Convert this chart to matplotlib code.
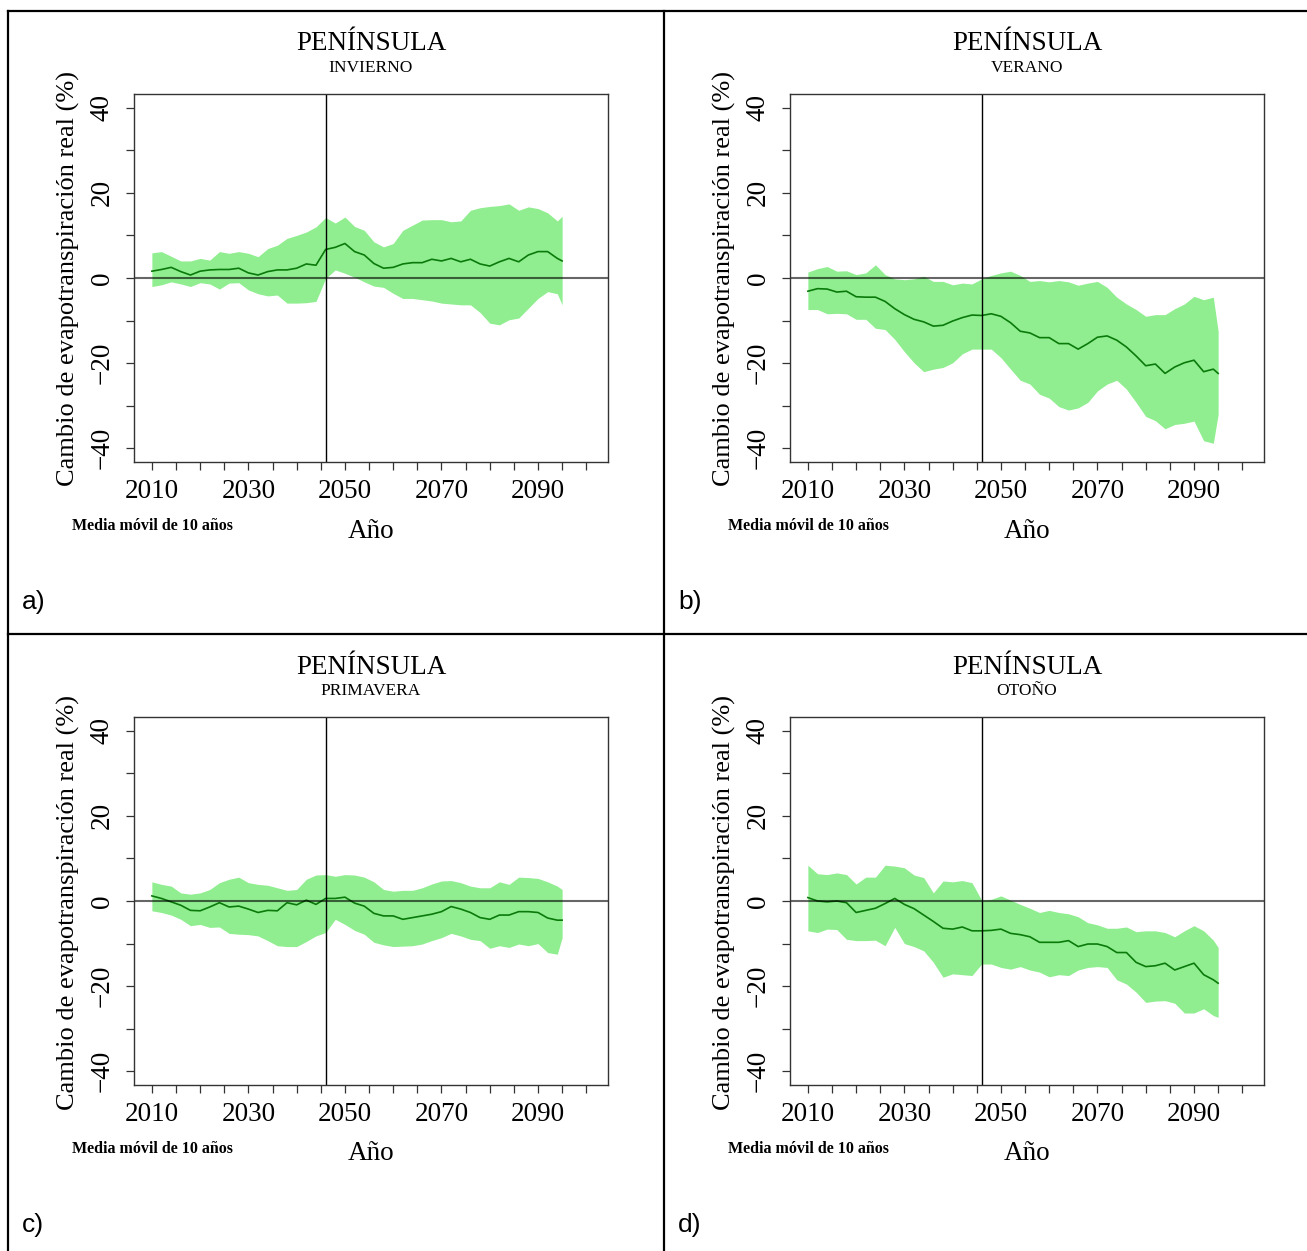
import matplotlib
matplotlib.use("Agg")
import matplotlib.pyplot as plt
from matplotlib.lines import Line2D

# años (media móvil de 10 años, lectura cada 2 años)
years = list(range(2010, 2096, 2)) + [2095]

invierno_media = [1.6, 2.0, 2.5, 1.5, 0.7, 1.6, 1.9, 2.0, 2.0, 2.3, 1.2, 0.7, 1.5, 1.9, 1.9,
                  2.3, 3.3, 3.0, 6.7, 7.2, 8.1, 6.2, 5.4, 3.4, 2.3, 2.5, 3.3, 3.6, 3.6, 4.4,
                  4.0, 4.6, 3.8, 4.4, 3.3, 2.8, 3.8, 4.6, 3.8, 5.4, 6.2, 6.2, 4.6, 4.0]
invierno_sup = [5.9, 6.2, 5.1, 4.0, 4.0, 4.6, 4.2, 6.2, 5.8, 6.2, 5.8, 5.0, 6.9, 7.7, 9.3,
                10.0, 10.8, 12.0, 14.2, 12.9, 14.3, 12.1, 11.2, 8.5, 7.3, 8.1, 11.2, 12.4, 13.6, 13.7,
                13.7, 13.2, 13.4, 15.9, 16.5, 16.8, 17.0, 17.4, 15.9, 16.7, 16.3, 15.3, 13.4, 14.5]
invierno_inf = [-2.0, -1.6, -0.9, -1.4, -2.0, -1.1, -1.4, -2.6, -1.2, -1.1, -2.8, -3.7, -4.2, -4.0, -5.9,
                -5.9, -5.8, -5.5, -0.1, 1.9, 1.1, 0.2, -0.9, -1.9, -2.2, -3.6, -4.8, -4.8, -5.1, -5.4,
                -5.9, -6.1, -6.3, -6.3, -8.1, -10.6, -11.0, -9.8, -9.4, -7.1, -4.8, -3.2, -3.7, -6.3]

verano_media = [-3.1, -2.5, -2.6, -3.3, -3.1, -4.4, -4.5, -4.5, -5.5, -7.2, -8.6, -9.7, -10.3, -11.3, -11.1,
                -10.1, -9.3, -8.7, -8.8, -8.4, -9.0, -10.5, -12.5, -12.9, -14.0, -14.0, -15.4, -15.4, -16.7, -15.4,
                -13.9, -13.6, -14.6, -16.2, -18.3, -20.6, -20.2, -22.4, -20.9, -19.9, -19.3, -22.0, -21.4, -22.4]
verano_sup = [1.4, 2.2, 2.7, 1.6, 1.7, 0.8, 1.2, 3.1, 0.8, -0.2, -0.4, -0.2, 0.4, -0.8, -0.8,
              -1.6, -1.2, -1.4, -0.2, 0.6, 1.2, 1.6, 0.6, -0.8, -0.6, -0.9, -0.6, -0.9, -1.7, -1.2,
              -0.8, -2.2, -4.5, -6.1, -7.4, -9.0, -8.6, -8.6, -7.2, -6.1, -4.3, -5.1, -4.5, -12.5]
verano_inf = [-7.4, -7.4, -8.4, -8.3, -8.4, -9.7, -9.7, -11.8, -12.1, -14.4, -17.3, -19.9, -22.0, -21.4, -21.0,
              -19.9, -17.8, -16.7, -16.7, -16.7, -18.7, -21.4, -24.0, -24.9, -27.3, -28.2, -30.2, -31.0, -30.5, -29.2,
              -26.5, -24.9, -24.0, -26.1, -29.2, -32.5, -33.5, -35.4, -34.4, -34.1, -33.6, -38.2, -38.8, -32.0]

primavera_media = [1.2, 0.6, -0.2, -1.0, -2.2, -2.3, -1.4, -0.4, -1.4, -1.2, -1.9, -2.7, -2.2, -2.3, -0.4,
                   -0.9, 0.2, -0.8, 0.6, 0.6, 0.9, -0.5, -1.2, -2.9, -3.5, -3.5, -4.3, -3.9, -3.5, -3.1,
                   -2.5, -1.3, -1.9, -2.7, -3.9, -4.3, -3.3, -3.3, -2.5, -2.5, -2.7, -4.0, -4.5, -4.5]
primavera_sup = [4.5, 3.9, 3.5, 1.9, 1.6, 1.9, 2.7, 4.3, 5.1, 5.6, 4.3, 3.9, 3.7, 3.1, 2.5,
                 2.7, 5.1, 6.1, 6.2, 5.8, 6.2, 6.1, 5.6, 4.5, 2.7, 2.3, 2.5, 2.5, 3.1, 4.0,
                 4.7, 4.8, 4.3, 3.5, 3.1, 3.1, 4.5, 3.9, 5.6, 5.5, 5.3, 4.5, 3.5, 2.7]
primavera_inf = [-2.3, -2.7, -3.3, -4.3, -5.8, -5.5, -6.2, -6.1, -7.6, -7.8, -7.9, -8.2, -9.3, -10.5, -10.7,
                 -10.7, -9.5, -8.2, -7.4, -4.3, -5.5, -6.9, -7.8, -9.7, -10.3, -10.7, -10.6, -10.5, -10.1, -9.3,
                 -8.6, -7.6, -8.2, -9.0, -9.3, -11.1, -10.5, -10.9, -10.1, -10.5, -10.0, -12.1, -12.5, -8.6]

otono_media = [0.8, 0.0, -0.2, 0.0, -0.4, -2.7, -2.2, -1.7, -0.6, 0.6, -0.8, -1.8, -3.3, -4.8, -6.4,
               -6.6, -6.1, -7.0, -7.0, -6.9, -6.6, -7.6, -7.9, -8.4, -9.7, -9.7, -9.7, -9.3, -10.7, -10.1,
               -10.1, -10.7, -12.1, -12.1, -14.4, -15.4, -15.2, -14.6, -16.2, -15.4, -14.6, -17.3, -18.5, -19.3]
otono_sup = [8.4, 6.4, 6.2, 6.6, 6.2, 4.0, 5.6, 5.6, 8.4, 8.2, 7.8, 6.1, 5.5, 1.9, 4.7,
             4.5, 4.8, 4.3, 0.2, 0.4, 1.2, 0.2, -0.8, -1.7, -2.7, -2.2, -2.7, -3.0, -3.7, -5.1,
             -5.6, -6.4, -6.4, -6.1, -7.2, -7.0, -7.0, -7.4, -8.4, -7.0, -5.8, -7.0, -9.2, -10.9]
otono_inf = [-7.0, -7.4, -6.6, -6.7, -9.0, -9.3, -9.3, -9.2, -10.5, -6.2, -10.0, -10.7, -11.7, -14.4, -17.9,
             -17.1, -17.3, -17.5, -14.8, -14.8, -15.6, -16.0, -15.4, -16.2, -16.7, -17.8, -17.3, -17.5, -16.2, -15.6,
             -15.4, -15.6, -18.5, -19.5, -21.4, -23.8, -23.5, -23.4, -24.0, -26.3, -26.3, -25.3, -26.9, -27.3]

estaciones = ["INVIERNO", "VERANO", "PRIMAVERA", "OTOÑO"]
letras = ["a)", "b)", "c)", "d)"]
series = [(invierno_media, invierno_sup, invierno_inf),
          (verano_media, verano_sup, verano_inf),
          (primavera_media, primavera_sup, primavera_inf),
          (otono_media, otono_sup, otono_inf)]
anio_corte = 2046

W, H = 1307, 1251
SERIF = "Liberation Serif"
SANS = "Liberation Sans"


def fx(px):
    return px / W


def fy(py):
    return 1 - py / H


fig = plt.figure(figsize=(W / 100, H / 100), dpi=100)

# cuadricula de la tabla
for (x0, y0, x1, y1) in [(8, 11, 8, H), (664, 11, 664, H), (8, 11, W, 11), (8, 634, W, 634)]:
    fig.add_artist(Line2D([fx(x0), fx(x1)], [fy(y0), fy(y1)], color="black", lw=1.6))

offsets = [(0, 0), (656, 0), (0, 623), (656, 623)]

for i, (dx, dy) in enumerate(offsets):
    media, sup, inf = series[i]
    left, top, right, bottom = 134 + dx, 94 + dy, 608 + dx, 462 + dy
    ax = fig.add_axes([fx(left), fy(bottom), (right - left) / W, (bottom - top) / H])

    ax.fill_between(years, inf, sup, color="#90ee90", lw=0)
    ax.plot(years, media, color="#0a7a0a", lw=1.2)
    ax.axhline(0, color="black", lw=1.5, alpha=0.6)
    ax.axvline(anio_corte, color="black", lw=1.0)

    ax.set_xlim(2006.3, 2104.5)
    ax.set_ylim(-43.2, 43.2)
    ax.set_xticks(list(range(2010, 2101, 5)))
    ax.set_xticklabels([str(t) if (t - 2010) % 20 == 0 else "" for t in range(2010, 2101, 5)],
                       fontfamily=SERIF, fontsize=19.5)
    ax.set_yticks(list(range(-40, 41, 10)))
    ax.set_yticklabels([f"{t}".replace("-", "\u2212") if t % 20 == 0 else "" for t in range(-40, 41, 10)],
                       fontfamily=SERIF, fontsize=19.5, rotation=90, va="center")
    ax.tick_params(axis="both", direction="out", length=6, width=0.9, color="#333333")
    ax.tick_params(axis="x", pad=6)
    ax.tick_params(axis="y", pad=8)
    for s in ax.spines.values():
        s.set_linewidth(1.0)
        s.set_color("#333333")

    cx = 371 + dx
    fig.text(fx(cx), fy(44 + dy), "PENÍNSULA", ha="center", va="center",
             fontfamily=SERIF, fontsize=19.5)
    fig.text(fx(cx), fy(68 + dy), estaciones[i], ha="center", va="center",
             fontfamily=SERIF, fontsize=12.5)
    fig.text(fx(68 + dx), fy(279 + dy), "Cambio de evapotranspiración real (%)", rotation=90,
             ha="center", va="center", fontfamily=SERIF, fontsize=19)
    fig.text(fx(cx), fy(531 + dy), "Año", ha="center", va="center",
             fontfamily=SERIF, fontsize=19.5)
    fig.text(fx(72 + dx), fy(526 + dy), "Media móvil de 10 años", ha="left", va="center",
             fontfamily=SERIF, fontsize=11.5, fontweight="bold")
    fig.text(fx(22 + dx), fy(602 + dy), letras[i], ha="left", va="center",
             fontfamily=SANS, fontsize=19)

fig.savefig("out.png", dpi=100)
